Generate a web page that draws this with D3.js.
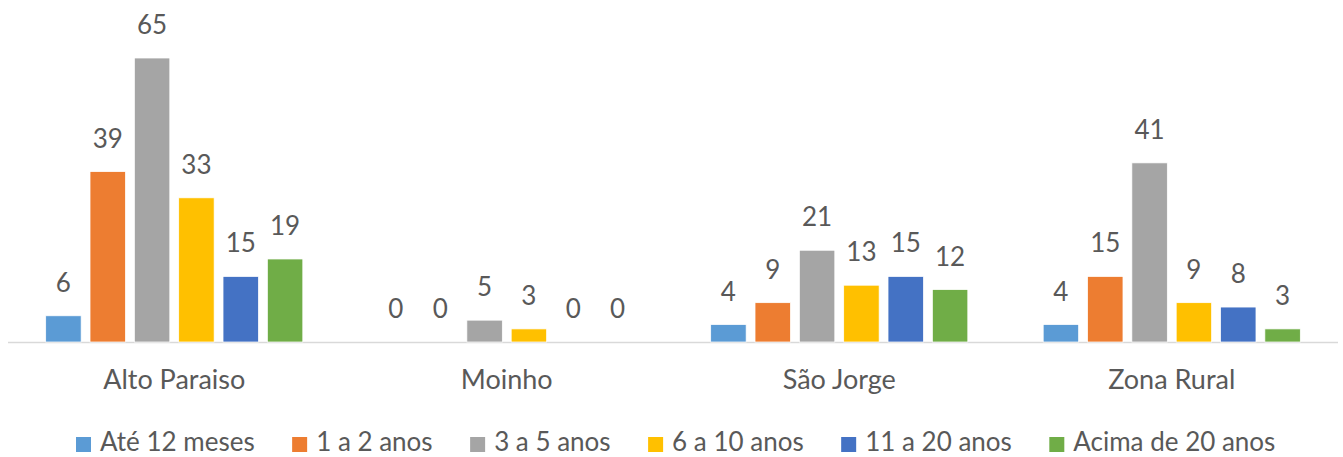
<!DOCTYPE html>
<html>
<head>
<meta charset="utf-8">
<script src="https://cdn.jsdelivr.net/npm/d3@7"></script>
<style>
  body { margin: 0; background: #fff; }
  text { font-family: Lato, "Open Sans", sans-serif; fill: #595959; }
</style>
</head>
<body>
<div id="chart"></div>
<script>
// data
var categories = ["Alto Paraiso", "Moinho", "São Jorge", "Zona Rural"]
var series = ["Até 12 meses", "1 a 2 anos", "3 a 5 anos", "6 a 10 anos", "11 a 20 anos", "Acima de 20 anos"]
var ate12   = [6, 0, 4, 4]
var de1a2   = [39, 0, 9, 15]
var de3a5   = [65, 5, 21, 41]
var de6a10  = [33, 3, 13, 9]
var de11a20 = [15, 0, 15, 8]
var acima20 = [19, 0, 12, 3]
var colors = ["#5B9BD5", "#ED7D31", "#A5A5A5", "#FFC000", "#4472C4", "#70AD47"]

var values = [ate12, de1a2, de3a5, de6a10, de11a20, acima20]

var width = 1343, height = 457
var baseline = 342

var svg = d3.select("#chart")
    .append("svg")
    .attr("width", width)
    .attr("height", height)

// scales
var x0 = d3.scaleBand()
    .domain(categories)
    .range([8, 1338])

var x1 = d3.scaleBand()
    .domain(series)
    .range([0, x0.bandwidth()])
    .paddingInner(0.2)
    .paddingOuter(0.85)

var y = d3.scaleLinear()
    .domain([0, 65])
    .range([baseline, 58])

// flatten to one row per bar
var rows = []
categories.forEach(function (c, i) {
    series.forEach(function (s, j) {
        rows.push({cat: c, ser: s, value: values[j][i], color: colors[j]})
    })
})

// axis line
svg.append("line")
    .attr("x1", x0.range()[0])
    .attr("x2", x0.range()[1])
    .attr("y1", baseline + 0.5)
    .attr("y2", baseline + 0.5)
    .attr("stroke", "#D9D9D9")
    .attr("stroke-width", 1.5)

// bars
svg.append("g")
    .selectAll("rect")
    .data(rows)
    .enter()
    .append("rect")
    .attr("x", function (d) { return x0(d.cat) + x1(d.ser) })
    .attr("y", function (d) { return y(d.value) })
    .attr("width", x1.bandwidth())
    .attr("height", function (d) { return baseline - y(d.value) })
    .attr("fill", function (d) { return d.color })
    .attr("stroke", "#fff")
    .attr("stroke-width", 0.75)

// value labels
svg.append("g")
    .selectAll("text")
    .data(rows)
    .enter()
    .append("text")
    .attr("x", function (d) { return x0(d.cat) + x1(d.ser) + x1.bandwidth() / 2 })
    .attr("y", function (d) { return y(d.value) - 24 })
    .attr("text-anchor", "middle")
    .style("font-size", "26px")
    .text(function (d) { return d.value })

// category axis labels
svg.append("g")
    .selectAll("text")
    .data(categories)
    .enter()
    .append("text")
    .attr("x", function (d) { return x0(d) + x0.bandwidth() / 2 })
    .attr("y", 389)
    .attr("text-anchor", "middle")
    .style("font-size", "27px")
    .text(function (d) { return d })

// legend, laid out from measured text widths
var legend = svg.append("g")
var lx = 76
series.forEach(function (s, j) {
    legend.append("rect")
        .attr("x", lx)
        .attr("y", 437)
        .attr("width", 15)
        .attr("height", 15)
        .attr("fill", colors[j])
    var t = legend.append("text")
        .attr("x", lx + 24)
        .attr("y", 451)
        .style("font-size", "26px")
        .text(s)
    lx += 24 + t.node().getComputedTextLength() + 37.5
})
</script>
</body>
</html>
